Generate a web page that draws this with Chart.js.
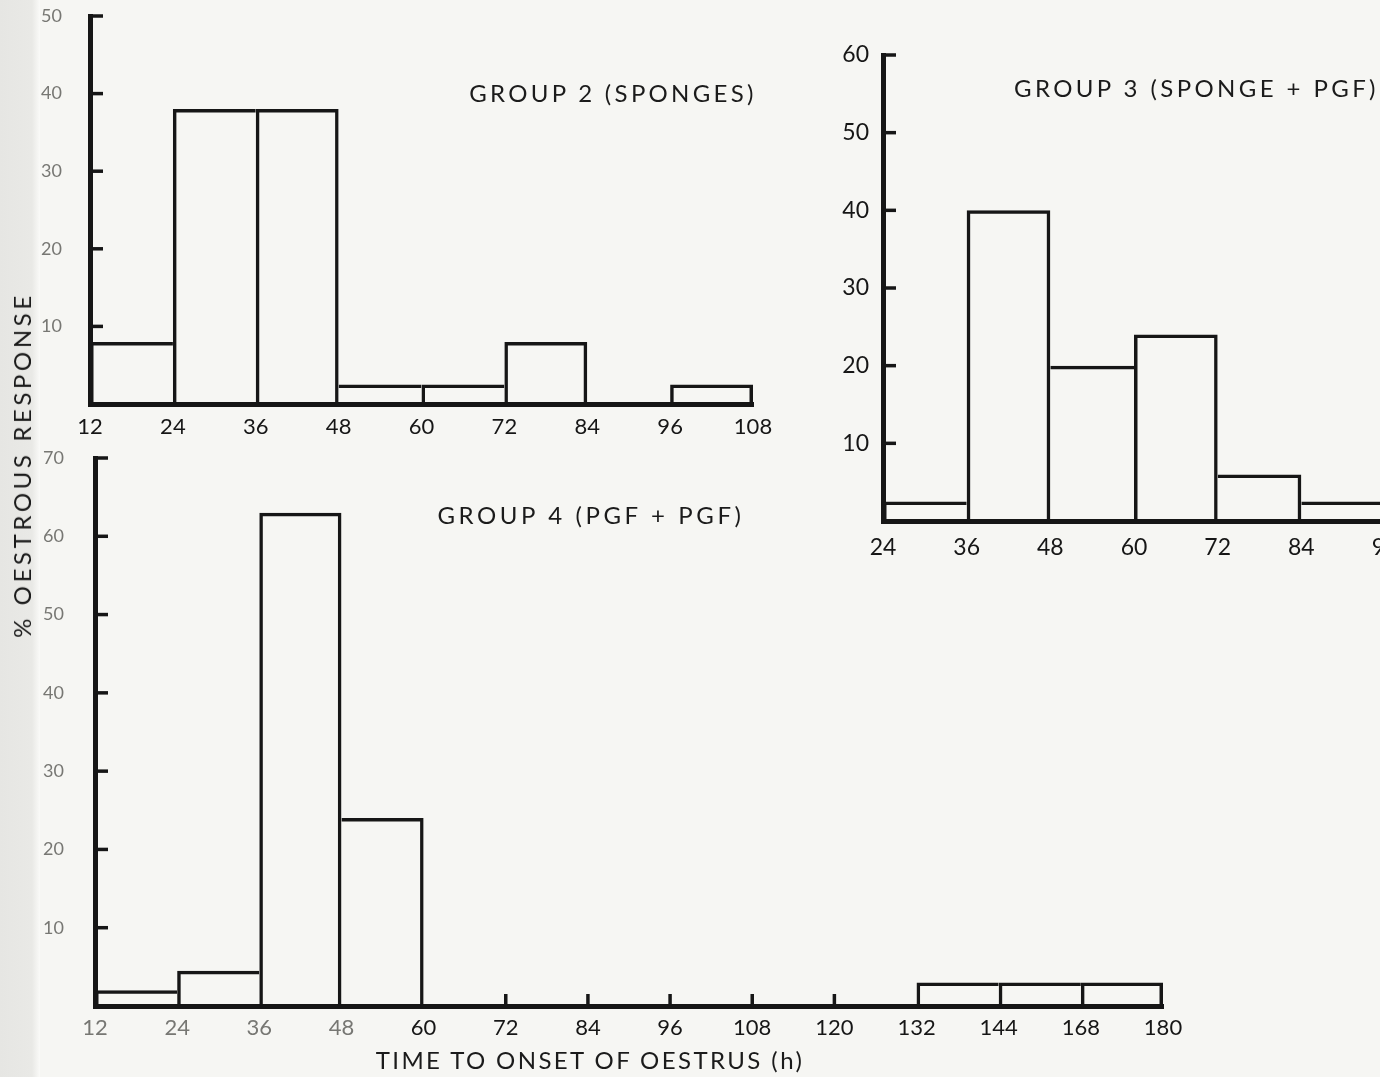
<!DOCTYPE html>
<html>
<head>
<meta charset="utf-8">
<script src="https://cdn.jsdelivr.net/npm/chart.js@4.4.1/dist/chart.umd.min.js"></script>
<style>
  html, body { margin: 0; padding: 0; width: 1380px; height: 1077px; overflow: hidden; background: #f6f6f3; }
  #page { position: relative; width: 1380px; height: 1077px; overflow: hidden; }
  #margin { position: absolute; left: 0; top: 0; width: 40px; height: 1077px;
            background: linear-gradient(to right, #e6e6e3 0, #e9e9e6 80%, #fafaf8 100%); }
  canvas { position: absolute; }
  .lbl { position: absolute; font-family: Lato, 'Open Sans', sans-serif; color: #1b1b1b;
         white-space: nowrap; line-height: 1; }
</style>
</head>
<body>
<div id="page">
  <div id="margin"></div>
  <canvas id="g2" width="800" height="450" style="left:0;top:0"></canvas>
  <canvas id="g3" width="620" height="560" style="left:820px;top:30px"></canvas>
  <canvas id="g4" width="1220" height="632" style="left:0;top:445px"></canvas>

  <div class="lbl" id="t2" style="left:613px;top:93px;transform:translate(-50%,-50%);font-size:24px;letter-spacing:3.3px;"></div>
  <div class="lbl" id="t3" style="left:1014px;top:88px;transform:translate(0,-50%);font-size:24px;letter-spacing:3.4px;"></div>
  <div class="lbl" id="t4" style="left:591px;top:515px;transform:translate(-50%,-50%);font-size:24px;letter-spacing:3.6px;"></div>
  <div class="lbl" id="xt" style="left:590px;top:1060px;transform:translate(-50%,-50%);font-size:24px;letter-spacing:2.4px;"></div>
  <div class="lbl" id="yt" style="left:22px;top:465px;transform:translate(-50%,-50%) rotate(-90deg);font-size:24px;letter-spacing:3.6px;"></div>
</div>

<script>
// Panel titles and axis titles
const titleGroup2 = 'GROUP 2 (SPONGES)';
const titleGroup3 = 'GROUP 3 (SPONGE + PGF)';
const titleGroup4 = 'GROUP 4 (PGF + PGF)';
const xAxisTitle = 'TIME TO ONSET OF OESTRUS (h)';
const yAxisTitle = '% OESTROUS RESPONSE';

// Bin edges (hours) used as x tick labels, and % oestrous response per bin
const group2Edges = ['12', '24', '36', '48', '60', '72', '84', '96', '108'];
const group2Values = [8, 38, 38, 2.5, 2.5, 8, null, 2.5];

const group3Edges = ['24', '36', '48', '60', '72', '84', '96'];
const group3Values = [2.5, 40, 20, 24, 6, 2.5];

const group4Edges = ['12', '24', '36', '48', '60', '72', '84', '96', '108', '120', '132', '144', '168', '180'];
const group4Values = [2, 4.5, 63, 24, null, null, null, null, null, null, 3, 3, 3];

// Upper limits of the y axes
const group2YMax = 50;
const group3YMax = 60;
const group4YMax = 70;

document.getElementById('t2').textContent = titleGroup2;
document.getElementById('t3').textContent = titleGroup3;
document.getElementById('t4').textContent = titleGroup4;
document.getElementById('xt').textContent = xAxisTitle;
document.getElementById('yt').textContent = yAxisTitle;

const INK = '#161616';
const FADED = '#777773';
Chart.defaults.font.family = "Lato, 'Open Sans', sans-serif";

// Short tick marks pointing into the plot: on the y axis at every labelled value,
// on the x axis at bin edges that have no bar on either side.
const innerTicks = {
  id: 'innerTicks',
  afterDraw(chart, args, opts) {
    const { ctx, chartArea, scales: { x, y } } = chart;
    const values = opts.values;
    ctx.save();
    ctx.strokeStyle = INK;
    ctx.lineWidth = 3.5;
    ctx.lineCap = 'butt';
    y.ticks.forEach(t => {
      if (t.value <= 0) return;
      const py = y.getPixelForValue(t.value);
      ctx.beginPath();
      ctx.moveTo(chartArea.left, py);
      ctx.lineTo(chartArea.left + 13, py);
      ctx.stroke();
    });
    for (let i = 1; i < values.length; i++) {
      if (values[i - 1] == null && values[i] == null) {
        const px = x.getPixelForValue(i);
        ctx.beginPath();
        ctx.moveTo(px, chartArea.bottom);
        ctx.lineTo(px, chartArea.bottom - 12);
        ctx.stroke();
      }
    }
    ctx.restore();
  }
};

function histogram(id, edges, values, yMax, geom) {
  const points = [];
  values.forEach((v, i) => { if (v != null) points.push({ x: i + 0.5, y: v }); });
  const bw = 3.5;
  return new Chart(document.getElementById(id), {
    type: 'bar',
    data: {
      datasets: [{
        data: points,
        backgroundColor: 'rgba(0,0,0,0)',
        borderColor: INK,
        borderSkipped: 'start',
        inflateAmount: 0,
        barPercentage: 1,
        categoryPercentage: 1,
        // a shared edge is outlined once, by the taller neighbour
        borderWidth: c => {
          if (!c.raw) return bw;
          const i = Math.round(c.raw.x - 0.5);
          const v = values[i], prev = values[i - 1], next = values[i + 1];
          return {
            top: bw,
            bottom: 0,
            left: (prev == null || prev <= v) ? bw : 0,
            right: (next == null || next < v) ? bw : 0
          };
        }
      }]
    },
    options: {
      responsive: false,
      animation: false,
      events: [],
      layout: { padding: { left: 0, top: geom.top, right: geom.right, bottom: 0 } },
      plugins: { legend: { display: false }, tooltip: { enabled: false }, innerTicks: { values } },
      scales: {
        x: {
          type: 'linear',
          offset: false,
          min: 0,
          max: edges.length - 1,
          grid: { display: false, drawTicks: false },
          border: { display: true, color: INK, width: 5 },
          ticks: {
            stepSize: 1,
            autoSkip: false,
            maxRotation: 0,
            padding: geom.xPad,
            color: geom.xColor,
            font: { size: geom.xFont },
            callback: v => edges[v]
          },
          afterFit: s => { s.height = geom.xh; s.paddingLeft = 0; s.paddingRight = 0; }
        },
        y: {
          type: 'linear',
          min: 0,
          max: yMax,
          grid: { display: false, drawTicks: false },
          border: { display: true, color: INK, width: 5 },
          ticks: {
            stepSize: 10,
            padding: geom.yPad,
            color: geom.yColor,
            font: { size: geom.yFont },
            callback: v => (v === 0 ? '' : v)
          },
          afterFit: s => { s.width = geom.yw; s.paddingTop = 0; s.paddingBottom = 0; }
        }
      }
    },
    plugins: [innerTicks]
  });
}

histogram('g2', group2Edges, group2Values, group2YMax,
  { top: 16, right: 47, yw: 90, xh: 46, xPad: 10, xFont: 22, yPad: 28, yFont: 18, yColor: FADED, xColor: INK });

histogram('g3', group3Edges, group3Values, group3YMax,
  { top: 25, right: 55, yw: 63, xh: 69, xPad: 13, xFont: 23, yPad: 14, yFont: 23, yColor: INK, xColor: INK });

histogram('g4', group4Edges, group4Values, group4YMax,
  { top: 13, right: 57, yw: 95, xh: 71, xPad: 9, xFont: 22, yPad: 31, yFont: 18, yColor: FADED,
    xColor: c => (c.index < 4 ? FADED : INK) });
</script>
</body>
</html>
